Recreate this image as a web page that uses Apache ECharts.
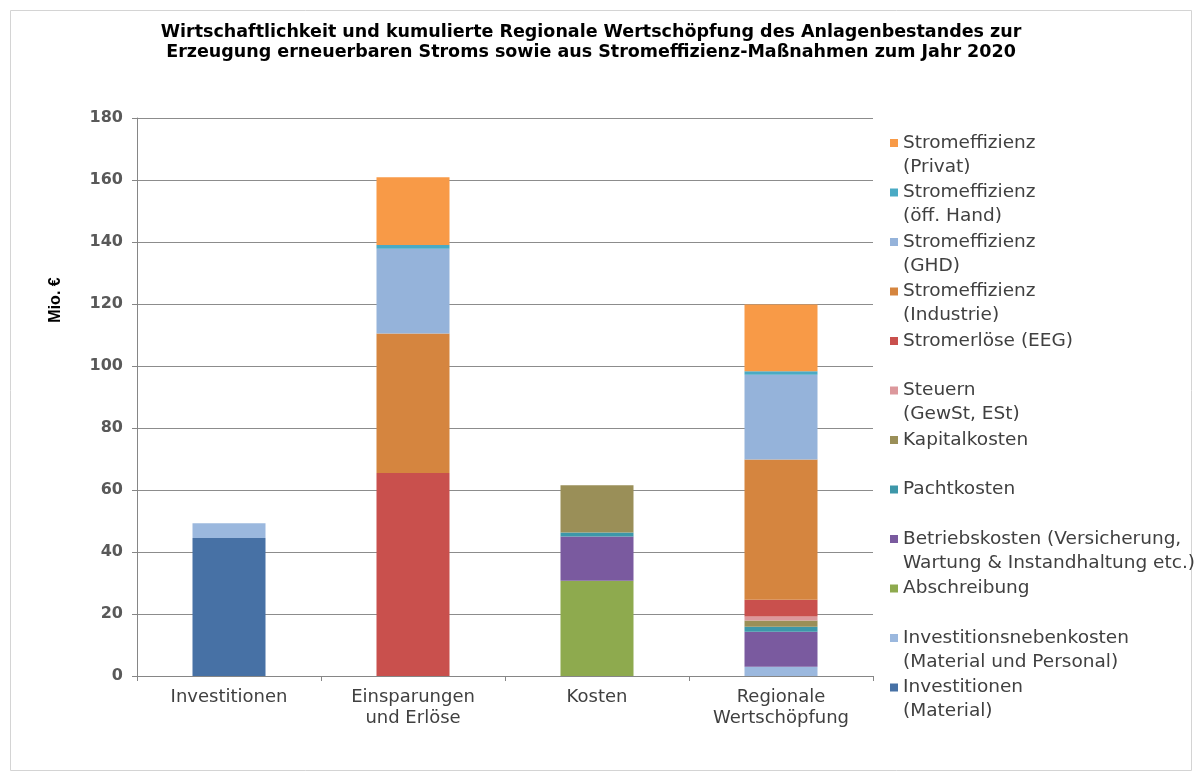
<!DOCTYPE html>
<html>
<head>
<meta charset="utf-8">
<script src="https://cdn.jsdelivr.net/npm/echarts@6/dist/echarts.min.js"></script>
<style>
html,body{margin:0;padding:0;background:#ffffff;}
#chart{width:1202px;height:777px;}
</style>
</head>
<body>
<div id="chart"></div>
<script>
// ---------- data ----------
const categories = ['Investitionen', 'Einsparungen\nund Erlöse', 'Kosten', 'Regionale\nWertschöpfung'];

// stacked from bottom to top
const seriesNames = [
  'Investitionen\n(Material)',
  'Investitionsnebenkosten\n(Material und Personal)',
  'Abschreibung',
  'Betriebskosten (Versicherung,\nWartung & Instandhaltung etc.)',
  'Pachtkosten',
  'Kapitalkosten',
  'Steuern\n(GewSt, ESt)',
  'Stromerlöse (EEG)',
  'Stromeffizienz\n(Industrie)',
  'Stromeffizienz\n(GHD)',
  'Stromeffizienz\n(öff. Hand)',
  'Stromeffizienz\n(Privat)'
];

const investitionenMaterial   = [44.5, 0, 0, 0];
const investitionsnebenkosten = [4.8, 0, 0, 3.0];
const abschreibung            = [0, 0, 30.7, 0];
const betriebskosten          = [0, 0, 14.3, 11.3];
const pachtkosten             = [0, 0, 1.3, 1.6];
const kapitalkosten           = [0, 0, 15.2, 2.0];
const steuern                 = [0, 0, 0, 1.3];
const stromerloese            = [0, 65.5, 0, 5.4];
const effizienzIndustrie      = [0, 45.0, 0, 45.2];
const effizienzGHD            = [0, 27.3, 0, 27.4];
const effizienzOeffHand       = [0, 1.2, 0, 1.1];
const effizienzPrivat         = [0, 21.9, 0, 21.5];

const seriesValues = [
  investitionenMaterial, investitionsnebenkosten, abschreibung, betriebskosten,
  pachtkosten, kapitalkosten, steuern, stromerloese,
  effizienzIndustrie, effizienzGHD, effizienzOeffHand, effizienzPrivat
];

const yMin = 0, yMax = 180, yStep = 20;

// ---------- style ----------
const colors = [
  '#4771a5', '#9bb8de', '#8eaa4e', '#7a5a9f', '#3d97a9', '#9a8f58',
  '#dc989c', '#c9504d', '#d5853f', '#95b3da', '#4aaac4', '#f89a47'
];
const SANS = '"DejaVu Sans", Verdana, sans-serif';
const LH = 24;              // legend line height
const LEGEND_FIRST = 143;   // first-line centre of the top legend entry
const LEGEND_PITCH = 49.5;  // distance between legend entries

const chart = echarts.init(document.getElementById('chart'), null, {renderer: 'canvas'});

const series = seriesNames.map((name, i) => ({
  name: name,
  type: 'bar',
  stack: 'total',
  barWidth: 73,
  itemStyle: {color: colors[i]},
  emphasis: {disabled: true},
  data: seriesValues[i].map(v => v === 0 ? '-' : v)
}));

const legends = seriesNames.slice().reverse().map((name, k) => {
  const twoLine = name.indexOf('\n') >= 0;
  const c = LEGEND_FIRST + k * LEGEND_PITCH;
  return {
    data: [name],
    orient: 'vertical',
    left: 890,
    top: twoLine ? c - 1.5 * LH : c - 0.5 * LH,
    padding: 0,
    itemWidth: 8,
    itemHeight: 8,
    itemGap: 0,
    icon: 'rect',
    selectedMode: false,
    // leading blank line keeps the marker level with the first text line
    formatter: twoLine ? (n => '\n' + n) : (n => n),
    textStyle: {
      fontFamily: SANS, fontSize: 18.5, color: '#404040', lineHeight: LH
    }
  };
});

chart.setOption({
  backgroundColor: '#ffffff',
  animation: false,
  title: {
    text: 'Wirtschaftlichkeit und kumulierte Regionale Wertschöpfung des Anlagenbestandes zur\nErzeugung erneuerbaren Stroms sowie aus Stromeffizienz-Maßnahmen zum Jahr 2020',
    left: 591,
    top: 22,
    textAlign: 'center',
    padding: 0,
    textStyle: {
      fontFamily: SANS,
      fontWeight: 'bold', fontSize: 17.5, lineHeight: 20, color: '#000000'
    }
  },
  legend: legends,
  grid: {left: 137, right: 1202 - 873, top: 118, bottom: 777 - 676, containLabel: false},
  xAxis: {
    type: 'category',
    data: categories,
    axisLine: {lineStyle: {color: '#868686', width: 1}},
    axisTick: {show: true, length: 5, alignWithLabel: false, lineStyle: {color: '#868686'}},
    axisLabel: {
      fontFamily: SANS, fontSize: 18, color: '#404040', lineHeight: 21,
      margin: 11, interval: 0
    },
    splitLine: {show: false}
  },
  yAxis: {
    type: 'value',
    min: yMin, max: yMax, interval: yStep,
    axisLine: {show: true, lineStyle: {color: '#868686', width: 1}},
    axisTick: {show: true, length: 5, lineStyle: {color: '#868686'}},
    axisLabel: {
      fontFamily: SANS, fontWeight: 'bold', fontSize: 16, color: '#595959', margin: 14
    },
    splitLine: {show: true, lineStyle: {color: '#8c8c8c', width: 1}}
  },
  graphic: [
    {
      type: 'rect', silent: true, z: -10,
      shape: {x: 10.5, y: 10.5, width: 1181, height: 760},
      style: {fill: 'none', stroke: '#d4d4d4', lineWidth: 1}
    },
    {
      type: 'text', silent: true,
      x: 56, y: 300, rotation: Math.PI / 2,
      style: {
        text: 'Mio. €', font: 'bold 16px "Liberation Sans", Arial, sans-serif',
        fill: '#000000', align: 'center', verticalAlign: 'middle'
      }
    }
  ],
  series: series
});
</script>
</body>
</html>
